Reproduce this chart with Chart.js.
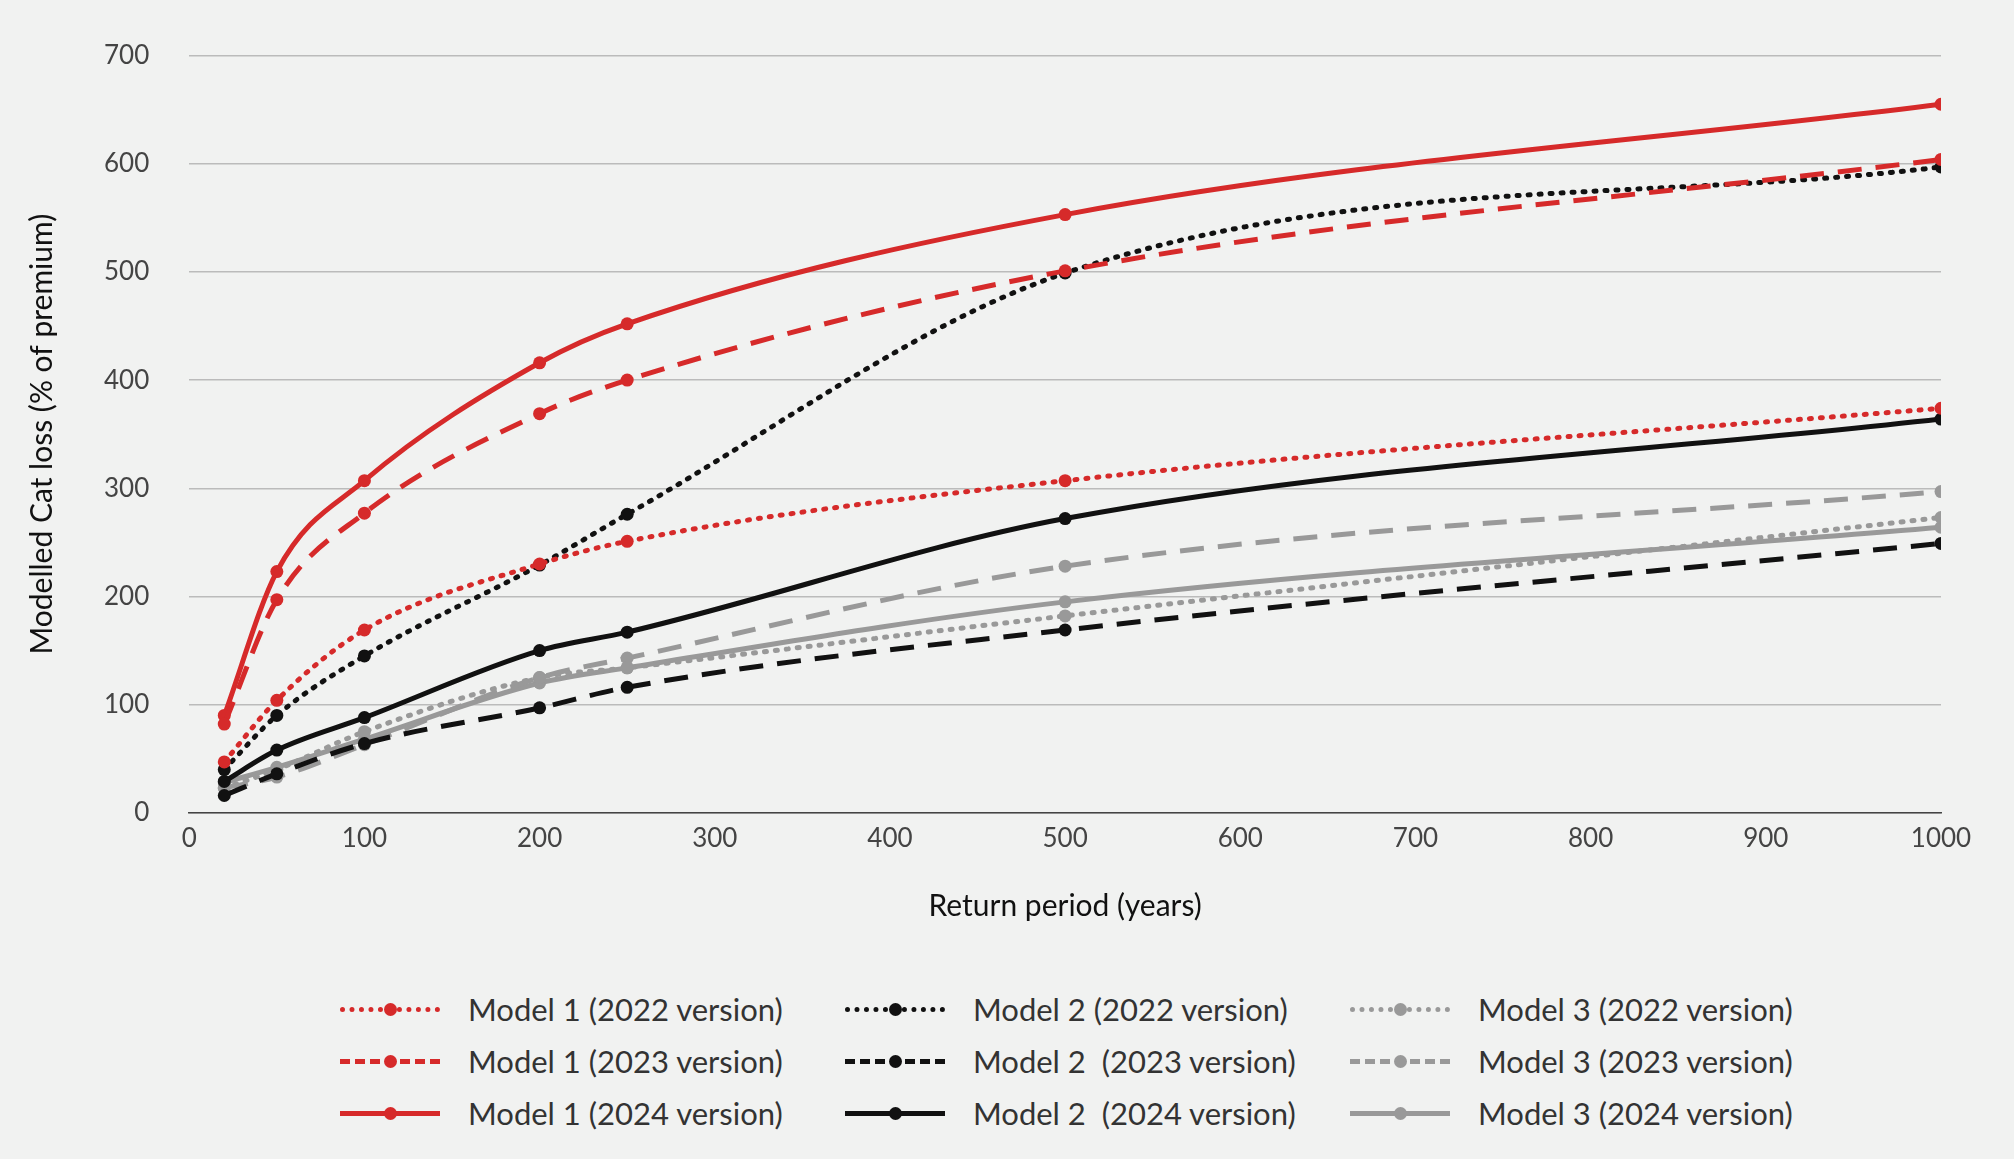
<!DOCTYPE html>
<html>
<head>
<meta charset="utf-8">
<script src="https://cdn.jsdelivr.net/npm/chart.js@4"></script>
<style>
  html, body { margin: 0; padding: 0; background: #f1f2f1; }
  body { width: 2014px; height: 1159px; overflow: hidden; font-family: Lato, "Noto Sans", sans-serif; }
  #wrap { position: relative; width: 2014px; height: 950px; }
  #legend { display: grid; grid-template-columns: 505px 505px 505px; margin-left: 340px; row-gap: 10px; margin-top: 38px; }
  .item { display: flex; align-items: center; font-size: 31px; color: #333; height: 42px; white-space: pre; }
  .sw { width: 100px; height: 0; margin-right: 28px; position: relative; }
</style>
</head>
<body>
<div id="wrap"><canvas id="c"></canvas></div>
<div id="legend"></div>
<script>
// Return periods (years)
const periods = [20, 50, 100, 200, 250, 500, 1000];

// Modelled Cat loss, % of premium
const m1_2022 = [47, 104, 169, 230, 251, 307, 374];
const m1_2023 = [82, 197, 277, 369, 400, 501, 604];
const m1_2024 = [90, 223, 307, 416, 452, 553, 655];
const m2_2022 = [40, 90, 145, 229, 276, 499, 597];
const m2_2023 = [16, 36, 64, 97, 116, 169, 249];
const m2_2024 = [29, 58, 88, 150, 167, 272, 364];
const m3_2022 = [23, 40, 75, 125, 134, 182, 273];
const m3_2023 = [23, 33, 63, 125, 143, 228, 297];
const m3_2024 = [28, 42, 68, 120, 134, 195, 264];

const RED = '#d62a2a', BLACK = '#111111', GREY = '#999999';
const DOT = [2, 9], DASH = [24, 14], SOLID = [];

const series = [
  { label: 'Model 1 (2022 version)', data: m1_2022, color: RED,   dash: DOT },
  { label: 'Model 2 (2022 version)', data: m2_2022, color: BLACK, dash: DOT },
  { label: 'Model 3 (2022 version)', data: m3_2022, color: GREY,  dash: DOT },
  { label: 'Model 1 (2023 version)', data: m1_2023, color: RED,   dash: DASH },
  { label: 'Model 2  (2023 version)', data: m2_2023, color: BLACK, dash: DASH },
  { label: 'Model 3 (2023 version)', data: m3_2023, color: GREY,  dash: DASH },
  { label: 'Model 1 (2024 version)', data: m1_2024, color: RED,   dash: SOLID },
  { label: 'Model 2  (2024 version)', data: m2_2024, color: BLACK, dash: SOLID },
  { label: 'Model 3 (2024 version)', data: m3_2024, color: GREY,  dash: SOLID },
];

// draw greys first, reds last, like the original
const drawOrder = { [GREY]: 3, [BLACK]: 2, [RED]: 1 };

new Chart(document.getElementById('c'), {
  type: 'line',
  data: {
    datasets: series.map(s => ({
      label: s.label,
      data: s.data.map((v, i) => ({ x: periods[i], y: v })),
      borderColor: s.color,
      backgroundColor: s.color,
      borderDash: s.dash,
      borderWidth: 5,
      borderCapStyle: s.dash === DOT ? 'round' : 'butt',
      pointRadius: 6.5,
      pointBorderWidth: 0,
      cubicInterpolationMode: 'monotone',
      order: drawOrder[s.color],
    })),
  },
  options: {
    responsive: true,
    maintainAspectRatio: false,
    animation: false,
    layout: { padding: { left: 20, right: 73, top: 18, bottom: 22 } },
    plugins: { legend: { display: false }, tooltip: { enabled: false } },
    scales: {
      x: {
        type: 'linear', min: 0, max: 1000,
        ticks: { stepSize: 100, color: '#444', font: { family: 'Lato', size: 26 }, padding: 10, callback: v => String(v) },
        grid: { display: false, drawTicks: false },
        border: { color: '#444', width: 1.5 },
        title: { display: true, text: 'Return period (years)', color: '#111', font: { family: 'Lato', size: 30 }, padding: { top: 24 } },
      },
      y: {
        min: 0, max: 700,
        ticks: { stepSize: 100, color: '#444', font: { family: 'Lato', size: 26 }, padding: 40 },
        grid: { color: '#bbbbbb', lineWidth: 1.5, drawTicks: false },
        border: { display: false },
        title: { display: true, text: 'Modelled Cat loss (% of premium)', color: '#111', font: { family: 'Lato', size: 30 } },
      },
    },
  },
});

// HTML legend in three columns
const lg = document.getElementById('legend');
series.forEach(s => {
  const it = document.createElement('div');
  it.className = 'item';
  const style = s.dash === DOT ? 'dotted' : s.dash === DASH ? 'dashed' : 'solid';
  it.innerHTML = `<span class="sw" style="border-top:5px ${style} ${s.color}"><span style="position:absolute;left:44px;top:-9px;width:13px;height:13px;border-radius:50%;background:${s.color}"></span></span>${s.label}`;
  lg.appendChild(it);
});
</script>
</body>
</html>
